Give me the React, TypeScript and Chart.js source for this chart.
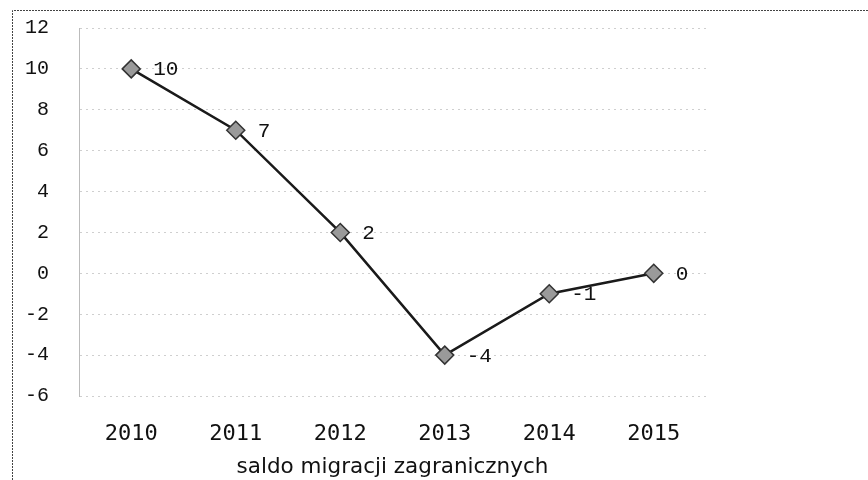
import React, { useEffect, useRef } from "react";
import { Chart, registerables } from "chart.js";

Chart.register(...registerables);

const categories = ["2010", "2011", "2012", "2013", "2014", "2015"];
const saldo = [10, 7, 2, -4, -1, 0];
const yMin = -6;
const yMax = 12;
const yStep = 2;
const axisTitle = "saldo migracji zagranicznych";

const valueLabels = {
  id: "valueLabels",
  afterDatasetsDraw(chart: any) {
    const ctx = chart.ctx;
    const meta = chart.getDatasetMeta(0);
    ctx.save();
    ctx.font = "21px 'Liberation Mono'";
    ctx.fillStyle = "#111";
    ctx.textAlign = "left";
    ctx.textBaseline = "middle";
    meta.data.forEach((pt: any, i: number) => {
      ctx.fillText(String(saldo[i]), pt.x + 22, pt.y + 1);
    });
    ctx.restore();
  },
};

const frame = {
  id: "frame",
  beforeDraw(chart: any) {
    const ctx = chart.ctx;
    ctx.save();
    ctx.fillStyle = "#fff";
    ctx.fillRect(0, 0, chart.width, chart.height);
    ctx.strokeStyle = "#444";
    ctx.lineWidth = 1;
    ctx.setLineDash([2, 1]);
    ctx.beginPath();
    ctx.moveTo(12.5, 480);
    ctx.lineTo(12.5, 10.5);
    ctx.lineTo(868, 10.5);
    ctx.stroke();
    ctx.restore();
  },
};

export default function App() {
  const ref = useRef<HTMLCanvasElement>(null);
  useEffect(() => {
    document.body.style.margin = "0";
    const chart = new Chart(ref.current!, {
      type: "line",
      data: {
        labels: categories,
        datasets: [
          {
            data: saldo,
            borderColor: "#1a1a1a",
            borderWidth: 2.5,
            pointStyle: "rectRot",
            pointRadius: 9,
            pointBackgroundColor: "#9a9a9a",
            pointBorderColor: "#333",
            pointBorderWidth: 1.5,
            tension: 0,
          },
        ],
      },
      options: {
        animation: false,
        responsive: false,
        maintainAspectRatio: false,
        layout: { padding: { top: 28, right: 162, left: 0, bottom: 0 } },
        plugins: { legend: { display: false }, tooltip: { enabled: false } },
        scales: {
          x: {
            offset: true,
            grid: { display: false, drawTicks: false },
            border: { display: false },
            ticks: {
              padding: 25,
              color: "#111",
              font: { family: "'DejaVu Sans Mono'", size: 22 },
            },
            title: {
              display: true,
              text: axisTitle,
              color: "#111",
              font: { family: "'DejaVu Sans'", size: 21.5 },
              padding: { top: 2, bottom: 0 },
            },
            afterFit(scale: any) {
              scale.height = 84;
            },
          },
          y: {
            min: yMin,
            max: yMax,
            ticks: {
              stepSize: yStep,
              padding: 30,
              color: "#111",
              font: { family: "'Liberation Mono'", size: 20 },
            },
            grid: {
              color: "#cfcfcf",
              drawTicks: false,
            },
            border: { display: true, dash: [2, 4], color: "#bbb" },
            afterFit(scale: any) {
              scale.width = 79;
              scale.paddingTop = 12;
              scale.paddingBottom = 12;
            },
          },
        },
      },
      plugins: [frame, valueLabels],
    });
    return () => chart.destroy();
  }, []);
  return <canvas ref={ref} width={868} height={480} style={{ display: "block" }} />;
}
